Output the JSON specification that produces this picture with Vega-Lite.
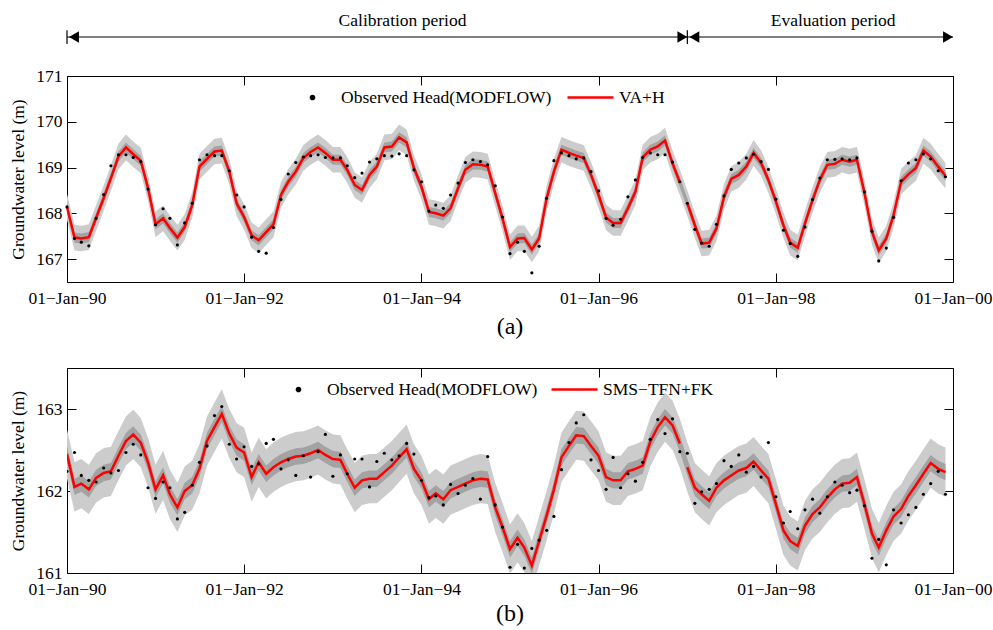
{
"$schema": "https://vega.github.io/schema/vega-lite/v6.json",
"padding": {"left": 9, "top": 11, "right": 5, "bottom": 5},
"background": "white",
"bounds": "flush",
"spacing": 86,
"resolve": {"scale": {"color": "independent"}, "legend": {"color": "independent"}},
"config": {
 "font": "Liberation Serif",
 "view": {"stroke": "black", "strokeWidth": 1},
 "axis": {"grid": false, "domain": false, "tickColor": "black", "tickSize": -9, "labelFont": "Liberation Serif", "labelFontSize": 17.5, "labelColor": "black", "titleFont": "Liberation Serif", "titleFontSize": 17.5, "titleFontWeight": "normal", "titleColor": "black"},
 "legend": {"labelFont": "Liberation Serif", "labelFontSize": 17.5, "labelColor": "black"}
},
"datasets": {
"A": [
{"t":"1990-01-01","g":"c","o":168.14,"s":168.14,"lo":167.86,"li":168.03,"hi":168.25,"ho":168.42},
{"t":"1990-02-01","g":"c","o":167.45,"s":167.47,"lo":167.19,"li":167.36,"hi":167.58,"ho":167.75},
{"t":"1990-03-01","g":"c","o":167.37,"s":167.45,"lo":167.17,"li":167.34,"hi":167.56,"ho":167.73},
{"t":"1990-04-01","g":"c","o":167.29,"s":167.48,"lo":167.20,"li":167.37,"hi":167.59,"ho":167.76},
{"t":"1990-05-01","g":"c","o":167.89,"s":167.90,"lo":167.62,"li":167.79,"hi":168.01,"ho":168.18},
{"t":"1990-06-01","g":"c","o":168.41,"s":168.33,"lo":168.05,"li":168.22,"hi":168.44,"ho":168.61},
{"t":"1990-07-01","g":"c","o":169.04,"s":168.77,"lo":168.49,"li":168.66,"hi":168.88,"ho":169.05},
{"t":"1990-08-01","g":"c","o":169.28,"s":169.24,"lo":168.96,"li":169.13,"hi":169.35,"ho":169.52},
{"t":"1990-09-01","g":"c","o":169.28,"s":169.44,"lo":169.16,"li":169.33,"hi":169.55,"ho":169.72},
{"t":"1990-10-01","g":"c","o":169.22,"s":169.29,"lo":169.01,"li":169.18,"hi":169.40,"ho":169.57},
{"t":"1990-11-01","g":"c","o":169.13,"s":169.15,"lo":168.87,"li":169.04,"hi":169.26,"ho":169.43},
{"t":"1990-12-01","g":"c","o":168.53,"s":168.55,"lo":168.27,"li":168.44,"hi":168.66,"ho":168.83},
{"t":"1991-01-01","g":"c","o":167.75,"s":167.76,"lo":167.48,"li":167.65,"hi":167.87,"ho":168.04},
{"t":"1991-02-01","g":"c","o":168.10,"s":167.89,"lo":167.61,"li":167.78,"hi":168.00,"ho":168.17},
{"t":"1991-03-01","g":"c","o":167.89,"s":167.68,"lo":167.40,"li":167.57,"hi":167.79,"ho":167.96},
{"t":"1991-04-01","g":"c","o":167.31,"s":167.47,"lo":167.19,"li":167.36,"hi":167.58,"ho":167.75},
{"t":"1991-05-01","g":"c","o":167.79,"s":167.70,"lo":167.42,"li":167.59,"hi":167.81,"ho":167.98},
{"t":"1991-06-01","g":"c","o":168.22,"s":168.18,"lo":167.90,"li":168.07,"hi":168.29,"ho":168.46},
{"t":"1991-07-01","g":"c","o":169.17,"s":169.02,"lo":168.74,"li":168.91,"hi":169.13,"ho":169.30},
{"t":"1991-08-01","g":"c","o":169.28,"s":169.19,"lo":168.91,"li":169.08,"hi":169.30,"ho":169.47},
{"t":"1991-09-01","g":"c","o":169.26,"s":169.35,"lo":169.07,"li":169.24,"hi":169.46,"ho":169.63},
{"t":"1991-10-01","g":"c","o":169.26,"s":169.37,"lo":169.09,"li":169.26,"hi":169.48,"ho":169.65},
{"t":"1991-11-01","g":"c","o":168.93,"s":168.91,"lo":168.63,"li":168.80,"hi":169.02,"ho":169.19},
{"t":"1991-12-01","g":"c","o":168.40,"s":168.22,"lo":167.94,"li":168.11,"hi":168.33,"ho":168.50},
{"t":"1992-01-01","g":"c","o":168.14,"s":167.92,"lo":167.64,"li":167.81,"hi":168.03,"ho":168.20},
{"t":"1992-02-01","g":"c","o":167.48,"s":167.52,"lo":167.24,"li":167.41,"hi":167.63,"ho":167.80},
{"t":"1992-03-01","g":"c","o":167.17,"s":167.41,"lo":167.13,"li":167.30,"hi":167.52,"ho":167.69},
{"t":"1992-04-01","g":"c","o":167.13,"s":167.59,"lo":167.31,"li":167.48,"hi":167.70,"ho":167.87},
{"t":"1992-05-01","g":"c","o":167.69,"s":167.76,"lo":167.48,"li":167.65,"hi":167.87,"ho":168.04},
{"t":"1992-06-01","g":"c","o":168.30,"s":168.40,"lo":168.12,"li":168.29,"hi":168.51,"ho":168.68},
{"t":"1992-07-01","g":"c","o":168.86,"s":168.69,"lo":168.41,"li":168.58,"hi":168.80,"ho":168.97},
{"t":"1992-08-01","g":"c","o":169.11,"s":168.91,"lo":168.63,"li":168.80,"hi":169.02,"ho":169.19},
{"t":"1992-09-01","g":"c","o":169.23,"s":169.21,"lo":168.93,"li":169.10,"hi":169.32,"ho":169.49},
{"t":"1992-10-01","g":"c","o":169.26,"s":169.34,"lo":169.06,"li":169.23,"hi":169.45,"ho":169.62},
{"t":"1992-11-01","g":"c","o":169.28,"s":169.44,"lo":169.16,"li":169.33,"hi":169.55,"ho":169.72},
{"t":"1992-12-01","g":"c","o":169.22,"s":169.32,"lo":169.04,"li":169.21,"hi":169.43,"ho":169.60},
{"t":"1993-01-01","g":"c","o":169.21,"s":169.17,"lo":168.89,"li":169.06,"hi":169.28,"ho":169.45},
{"t":"1993-02-01","g":"c","o":169.21,"s":169.17,"lo":168.89,"li":169.06,"hi":169.28,"ho":169.45},
{"t":"1993-03-01","g":"c","o":169.04,"s":168.95,"lo":168.67,"li":168.84,"hi":169.06,"ho":169.23},
{"t":"1993-04-01","g":"c","o":168.78,"s":168.62,"lo":168.34,"li":168.51,"hi":168.73,"ho":168.90},
{"t":"1993-05-01","g":"c","o":168.88,"s":168.51,"lo":168.23,"li":168.40,"hi":168.62,"ho":168.79},
{"t":"1993-06-01","g":"c","o":169.12,"s":168.84,"lo":168.56,"li":168.73,"hi":168.95,"ho":169.12},
{"t":"1993-07-01","g":"c","o":169.19,"s":169.02,"lo":168.74,"li":168.91,"hi":169.13,"ho":169.30},
{"t":"1993-08-01","g":"c","o":169.26,"s":169.44,"lo":169.16,"li":169.33,"hi":169.55,"ho":169.72},
{"t":"1993-09-01","g":"c","o":169.25,"s":169.46,"lo":169.18,"li":169.35,"hi":169.57,"ho":169.74},
{"t":"1993-10-01","g":"c","o":169.30,"s":169.66,"lo":169.38,"li":169.55,"hi":169.77,"ho":169.94},
{"t":"1993-11-01","g":"c","o":169.26,"s":169.55,"lo":169.27,"li":169.44,"hi":169.66,"ho":169.83},
{"t":"1993-12-01","g":"c","o":168.95,"s":168.99,"lo":168.71,"li":168.88,"hi":169.10,"ho":169.27},
{"t":"1994-01-01","g":"c","o":168.69,"s":168.58,"lo":168.30,"li":168.47,"hi":168.69,"ho":168.86},
{"t":"1994-02-01","g":"c","o":168.05,"s":168.03,"lo":167.75,"li":167.92,"hi":168.14,"ho":168.31},
{"t":"1994-03-01","g":"c","o":168.18,"s":168.00,"lo":167.72,"li":167.89,"hi":168.11,"ho":168.28},
{"t":"1994-04-01","g":"c","o":168.11,"s":167.95,"lo":167.67,"li":167.84,"hi":168.06,"ho":168.23},
{"t":"1994-05-01","g":"c","o":168.40,"s":168.11,"lo":167.83,"li":168.00,"hi":168.22,"ho":168.39},
{"t":"1994-06-01","g":"c","o":168.66,"s":168.55,"lo":168.27,"li":168.44,"hi":168.66,"ho":168.83},
{"t":"1994-07-01","g":"c","o":169.11,"s":168.95,"lo":168.67,"li":168.84,"hi":169.06,"ho":169.23},
{"t":"1994-08-01","g":"c","o":169.17,"s":169.07,"lo":168.79,"li":168.96,"hi":169.18,"ho":169.35},
{"t":"1994-09-01","g":"c","o":169.13,"s":169.06,"lo":168.78,"li":168.95,"hi":169.17,"ho":169.34},
{"t":"1994-10-01","g":"c","o":169.06,"s":169.02,"lo":168.74,"li":168.91,"hi":169.13,"ho":169.30},
{"t":"1994-11-01","g":"c","o":168.60,"s":168.44,"lo":168.16,"li":168.33,"hi":168.55,"ho":168.72},
{"t":"1994-12-01","g":"c","o":167.92,"s":167.89,"lo":167.61,"li":167.78,"hi":168.00,"ho":168.17},
{"t":"1995-01-01","g":"c","o":167.12,"s":167.26,"lo":166.98,"li":167.15,"hi":167.37,"ho":167.54},
{"t":"1995-02-01","g":"c","o":167.37,"s":167.45,"lo":167.17,"li":167.34,"hi":167.56,"ho":167.73},
{"t":"1995-03-01","g":"c","o":167.17,"s":167.46,"lo":167.18,"li":167.35,"hi":167.57,"ho":167.74},
{"t":"1995-04-01","g":"c","o":166.70,"s":167.21,"lo":166.93,"li":167.10,"hi":167.32,"ho":167.49},
{"t":"1995-05-01","g":"c","o":167.28,"s":167.45,"lo":167.17,"li":167.34,"hi":167.56,"ho":167.73},
{"t":"1995-06-01","g":"c","o":168.33,"s":168.33,"lo":168.05,"li":168.22,"hi":168.44,"ho":168.61},
{"t":"1995-07-01","g":"c","o":169.15,"s":168.91,"lo":168.63,"li":168.80,"hi":169.02,"ho":169.19},
{"t":"1995-08-01","g":"c","o":169.32,"s":169.39,"lo":169.11,"li":169.28,"hi":169.50,"ho":169.67},
{"t":"1995-09-01","g":"c","o":169.26,"s":169.32,"lo":169.04,"li":169.21,"hi":169.43,"ho":169.60},
{"t":"1995-10-01","g":"c","o":169.19,"s":169.26,"lo":168.98,"li":169.15,"hi":169.37,"ho":169.54},
{"t":"1995-11-01","g":"c","o":169.21,"s":169.21,"lo":168.93,"li":169.10,"hi":169.32,"ho":169.49},
{"t":"1995-12-01","g":"c","o":168.91,"s":168.84,"lo":168.56,"li":168.73,"hi":168.95,"ho":169.12},
{"t":"1996-01-01","g":"c","o":168.49,"s":168.40,"lo":168.12,"li":168.29,"hi":168.51,"ho":168.68},
{"t":"1996-02-01","g":"c","o":167.89,"s":167.91,"lo":167.63,"li":167.80,"hi":168.02,"ho":168.19},
{"t":"1996-03-01","g":"c","o":167.74,"s":167.79,"lo":167.51,"li":167.68,"hi":167.90,"ho":168.07},
{"t":"1996-04-01","g":"c","o":167.87,"s":167.79,"lo":167.51,"li":167.68,"hi":167.90,"ho":168.07},
{"t":"1996-05-01","g":"c","o":168.36,"s":168.11,"lo":167.83,"li":168.00,"hi":168.22,"ho":168.39},
{"t":"1996-06-01","g":"c","o":168.73,"s":168.47,"lo":168.19,"li":168.36,"hi":168.58,"ho":168.75},
{"t":"1996-07-01","g":"c","o":169.22,"s":169.22,"lo":168.94,"li":169.11,"hi":169.33,"ho":169.50},
{"t":"1996-08-01","g":"c","o":169.32,"s":169.39,"lo":169.11,"li":169.28,"hi":169.50,"ho":169.67},
{"t":"1996-09-01","g":"c","o":169.28,"s":169.46,"lo":169.18,"li":169.35,"hi":169.57,"ho":169.74},
{"t":"1996-10-01","g":"c","o":169.28,"s":169.59,"lo":169.31,"li":169.48,"hi":169.70,"ho":169.87},
{"t":"1996-11-01","g":"c","o":169.12,"s":169.09,"lo":168.81,"li":168.98,"hi":169.20,"ho":169.37},
{"t":"1996-12-01","g":"c","o":168.69,"s":168.68,"lo":168.40,"li":168.57,"hi":168.79,"ho":168.96},
{"t":"1997-01-01","g":"e","o":168.22,"s":168.22,"lo":167.94,"li":168.11,"hi":168.33,"ho":168.50},
{"t":"1997-02-01","g":"e","o":167.65,"s":167.74,"lo":167.46,"li":167.63,"hi":167.85,"ho":168.02},
{"t":"1997-03-01","g":"e","o":167.35,"s":167.34,"lo":167.06,"li":167.23,"hi":167.45,"ho":167.62},
{"t":"1997-04-01","g":"e","o":167.28,"s":167.36,"lo":167.08,"li":167.25,"hi":167.47,"ho":167.64},
{"t":"1997-05-01","g":"e","o":167.76,"s":167.67,"lo":167.39,"li":167.56,"hi":167.78,"ho":167.95},
{"t":"1997-06-01","g":"e","o":168.38,"s":168.36,"lo":168.08,"li":168.25,"hi":168.47,"ho":168.64},
{"t":"1997-07-01","g":"e","o":168.96,"s":168.75,"lo":168.47,"li":168.64,"hi":168.86,"ho":169.03},
{"t":"1997-08-01","g":"e","o":169.10,"s":168.84,"lo":168.56,"li":168.73,"hi":168.95,"ho":169.12},
{"t":"1997-09-01","g":"e","o":169.21,"s":169.02,"lo":168.74,"li":168.91,"hi":169.13,"ho":169.30},
{"t":"1997-10-01","g":"e","o":169.29,"s":169.32,"lo":169.04,"li":169.21,"hi":169.43,"ho":169.60},
{"t":"1997-11-01","g":"e","o":169.13,"s":169.10,"lo":168.82,"li":168.99,"hi":169.21,"ho":169.38},
{"t":"1997-12-01","g":"e","o":168.96,"s":168.73,"lo":168.45,"li":168.62,"hi":168.84,"ho":169.01},
{"t":"1998-01-01","g":"e","o":168.31,"s":168.26,"lo":167.98,"li":168.15,"hi":168.37,"ho":168.54},
{"t":"1998-02-01","g":"e","o":167.63,"s":167.74,"lo":167.46,"li":167.63,"hi":167.85,"ho":168.02},
{"t":"1998-03-01","g":"e","o":167.34,"s":167.36,"lo":167.08,"li":167.25,"hi":167.47,"ho":167.64},
{"t":"1998-04-01","g":"e","o":167.06,"s":167.25,"lo":166.97,"li":167.14,"hi":167.36,"ho":167.53},
{"t":"1998-05-01","g":"e","o":167.70,"s":167.78,"lo":167.50,"li":167.67,"hi":167.89,"ho":168.06},
{"t":"1998-06-01","g":"e","o":168.30,"s":168.29,"lo":168.01,"li":168.18,"hi":168.40,"ho":168.57},
{"t":"1998-07-01","g":"e","o":168.77,"s":168.73,"lo":168.45,"li":168.62,"hi":168.84,"ho":169.01},
{"t":"1998-08-01","g":"e","o":169.17,"s":169.06,"lo":168.78,"li":168.95,"hi":169.17,"ho":169.34},
{"t":"1998-09-01","g":"e","o":169.18,"s":169.08,"lo":168.80,"li":168.97,"hi":169.19,"ho":169.36},
{"t":"1998-10-01","g":"e","o":169.19,"s":169.17,"lo":168.89,"li":169.06,"hi":169.28,"ho":169.45},
{"t":"1998-11-01","g":"e","o":169.17,"s":169.13,"lo":168.85,"li":169.02,"hi":169.24,"ho":169.41},
{"t":"1998-12-01","g":"e","o":169.21,"s":169.17,"lo":168.89,"li":169.06,"hi":169.28,"ho":169.45},
{"t":"1999-01-01","g":"e","o":168.47,"s":168.45,"lo":168.17,"li":168.34,"hi":168.56,"ho":168.73},
{"t":"1999-02-01","g":"e","o":167.61,"s":167.60,"lo":167.32,"li":167.49,"hi":167.71,"ho":167.88},
{"t":"1999-03-01","g":"e","o":166.96,"s":167.19,"lo":166.91,"li":167.08,"hi":167.30,"ho":167.47},
{"t":"1999-04-01","g":"e","o":167.24,"s":167.45,"lo":167.17,"li":167.34,"hi":167.56,"ho":167.73},
{"t":"1999-05-01","g":"e","o":167.91,"s":167.96,"lo":167.68,"li":167.85,"hi":168.07,"ho":168.24},
{"t":"1999-06-01","g":"e","o":168.71,"s":168.69,"lo":168.41,"li":168.58,"hi":168.80,"ho":168.97},
{"t":"1999-07-01","g":"e","o":169.10,"s":168.85,"lo":168.57,"li":168.74,"hi":168.96,"ho":169.13},
{"t":"1999-08-01","g":"e","o":169.17,"s":168.99,"lo":168.71,"li":168.88,"hi":169.10,"ho":169.27},
{"t":"1999-09-01","g":"e","o":169.30,"s":169.37,"lo":169.09,"li":169.26,"hi":169.48,"ho":169.65},
{"t":"1999-10-01","g":"e","o":169.19,"s":169.24,"lo":168.96,"li":169.13,"hi":169.35,"ho":169.52},
{"t":"1999-11-01","g":"e","o":168.93,"s":169.02,"lo":168.74,"li":168.91,"hi":169.13,"ho":169.30},
{"t":"1999-12-01","g":"e","o":168.80,"s":168.82,"lo":168.54,"li":168.71,"hi":168.93,"ho":169.10}
],
"B": [
{"t":"1990-01-01","g":"c","o":162.24,"s":162.45,"lo":162.15,"li":162.35,"hi":162.55,"ho":162.75},
{"t":"1990-02-01","g":"c","o":162.47,"s":162.05,"lo":161.75,"li":161.95,"hi":162.15,"ho":162.35},
{"t":"1990-03-01","g":"c","o":162.19,"s":162.09,"lo":161.79,"li":161.99,"hi":162.19,"ho":162.39},
{"t":"1990-04-01","g":"c","o":162.13,"s":162.02,"lo":161.72,"li":161.92,"hi":162.12,"ho":162.32},
{"t":"1990-05-01","g":"c","o":162.11,"s":162.16,"lo":161.86,"li":162.06,"hi":162.26,"ho":162.46},
{"t":"1990-06-01","g":"c","o":162.28,"s":162.22,"lo":161.92,"li":162.12,"hi":162.32,"ho":162.52},
{"t":"1990-07-01","g":"c","o":162.22,"s":162.24,"lo":161.94,"li":162.14,"hi":162.34,"ho":162.54},
{"t":"1990-08-01","g":"c","o":162.25,"s":162.43,"lo":162.13,"li":162.33,"hi":162.53,"ho":162.73},
{"t":"1990-09-01","g":"c","o":162.47,"s":162.61,"lo":162.31,"li":162.51,"hi":162.71,"ho":162.91},
{"t":"1990-10-01","g":"c","o":162.57,"s":162.69,"lo":162.39,"li":162.59,"hi":162.79,"ho":162.99},
{"t":"1990-11-01","g":"c","o":162.44,"s":162.59,"lo":162.29,"li":162.49,"hi":162.69,"ho":162.89},
{"t":"1990-12-01","g":"c","o":162.04,"s":162.35,"lo":162.05,"li":162.25,"hi":162.45,"ho":162.65},
{"t":"1991-01-01","g":"c","o":161.91,"s":162.02,"lo":161.72,"li":161.92,"hi":162.12,"ho":162.32},
{"t":"1991-02-01","g":"c","o":162.11,"s":162.19,"lo":161.89,"li":162.09,"hi":162.29,"ho":162.49},
{"t":"1991-03-01","g":"c","o":162.04,"s":161.96,"lo":161.66,"li":161.86,"hi":162.06,"ho":162.26},
{"t":"1991-04-01","g":"c","o":161.66,"s":161.80,"lo":161.50,"li":161.70,"hi":161.90,"ho":162.10},
{"t":"1991-05-01","g":"c","o":161.74,"s":162.00,"lo":161.70,"li":161.90,"hi":162.10,"ho":162.30},
{"t":"1991-06-01","g":"c","o":162.07,"s":162.07,"lo":161.77,"li":161.97,"hi":162.17,"ho":162.37},
{"t":"1991-07-01","g":"c","o":162.35,"s":162.27,"lo":161.97,"li":162.17,"hi":162.37,"ho":162.57},
{"t":"1991-08-01","g":"c","o":162.55,"s":162.61,"lo":162.31,"li":162.51,"hi":162.71,"ho":162.91},
{"t":"1991-09-01","g":"c","o":162.92,"s":162.78,"lo":162.48,"li":162.68,"hi":162.88,"ho":163.08},
{"t":"1991-10-01","g":"c","o":163.03,"s":162.94,"lo":162.64,"li":162.84,"hi":163.04,"ho":163.24},
{"t":"1991-11-01","g":"c","o":162.57,"s":162.70,"lo":162.40,"li":162.60,"hi":162.80,"ho":163.00},
{"t":"1991-12-01","g":"c","o":162.39,"s":162.53,"lo":162.23,"li":162.43,"hi":162.63,"ho":162.83},
{"t":"1992-01-01","g":"c","o":162.54,"s":162.47,"lo":162.17,"li":162.37,"hi":162.57,"ho":162.77},
{"t":"1992-02-01","g":"c","o":162.30,"s":162.17,"lo":161.87,"li":162.07,"hi":162.27,"ho":162.47},
{"t":"1992-03-01","g":"c","o":162.33,"s":162.35,"lo":162.05,"li":162.25,"hi":162.45,"ho":162.65},
{"t":"1992-04-01","g":"c","o":162.58,"s":162.21,"lo":161.91,"li":162.11,"hi":162.31,"ho":162.51},
{"t":"1992-05-01","g":"c","o":162.63,"s":162.29,"lo":161.99,"li":162.19,"hi":162.39,"ho":162.59},
{"t":"1992-06-01","g":"c","o":162.27,"s":162.35,"lo":162.05,"li":162.25,"hi":162.45,"ho":162.65},
{"t":"1992-07-01","g":"c","o":162.38,"s":162.39,"lo":162.09,"li":162.29,"hi":162.49,"ho":162.69},
{"t":"1992-08-01","g":"c","o":162.19,"s":162.42,"lo":162.12,"li":162.32,"hi":162.52,"ho":162.72},
{"t":"1992-09-01","g":"c","o":162.43,"s":162.43,"lo":162.13,"li":162.33,"hi":162.53,"ho":162.73},
{"t":"1992-10-01","g":"c","o":162.17,"s":162.46,"lo":162.16,"li":162.36,"hi":162.56,"ho":162.76},
{"t":"1992-11-01","g":"c","o":162.48,"s":162.50,"lo":162.20,"li":162.40,"hi":162.60,"ho":162.80},
{"t":"1992-12-01","g":"c","o":162.69,"s":162.44,"lo":162.14,"li":162.34,"hi":162.54,"ho":162.74},
{"t":"1993-01-01","g":"c","o":162.18,"s":162.39,"lo":162.09,"li":162.29,"hi":162.49,"ho":162.69},
{"t":"1993-02-01","g":"c","o":162.44,"s":162.38,"lo":162.08,"li":162.28,"hi":162.48,"ho":162.68},
{"t":"1993-03-01","g":"c","o":162.21,"s":162.21,"lo":161.91,"li":162.11,"hi":162.31,"ho":162.51},
{"t":"1993-04-01","g":"c","o":162.39,"s":162.04,"lo":161.74,"li":161.94,"hi":162.14,"ho":162.34},
{"t":"1993-05-01","g":"c","o":162.39,"s":162.13,"lo":161.83,"li":162.03,"hi":162.23,"ho":162.43},
{"t":"1993-06-01","g":"c","o":162.05,"s":162.15,"lo":161.85,"li":162.05,"hi":162.25,"ho":162.45},
{"t":"1993-07-01","g":"c","o":162.36,"s":162.15,"lo":161.85,"li":162.05,"hi":162.25,"ho":162.45},
{"t":"1993-08-01","g":"c","o":162.46,"s":162.23,"lo":161.93,"li":162.13,"hi":162.33,"ho":162.53},
{"t":"1993-09-01","g":"c","o":162.38,"s":162.31,"lo":162.01,"li":162.21,"hi":162.41,"ho":162.61},
{"t":"1993-10-01","g":"c","o":162.43,"s":162.41,"lo":162.11,"li":162.31,"hi":162.51,"ho":162.71},
{"t":"1993-11-01","g":"c","o":162.58,"s":162.51,"lo":162.21,"li":162.41,"hi":162.61,"ho":162.81},
{"t":"1993-12-01","g":"c","o":162.45,"s":162.27,"lo":161.97,"li":162.17,"hi":162.37,"ho":162.57},
{"t":"1994-01-01","g":"c","o":162.13,"s":162.13,"lo":161.83,"li":162.03,"hi":162.23,"ho":162.43},
{"t":"1994-02-01","g":"c","o":161.92,"s":161.90,"lo":161.60,"li":161.80,"hi":162.00,"ho":162.20},
{"t":"1994-03-01","g":"c","o":161.94,"s":161.97,"lo":161.67,"li":161.87,"hi":162.07,"ho":162.27},
{"t":"1994-04-01","g":"c","o":161.83,"s":161.90,"lo":161.60,"li":161.80,"hi":162.00,"ho":162.20},
{"t":"1994-05-01","g":"c","o":162.08,"s":162.01,"lo":161.71,"li":161.91,"hi":162.11,"ho":162.31},
{"t":"1994-06-01","g":"c","o":161.97,"s":162.05,"lo":161.75,"li":161.95,"hi":162.15,"ho":162.35},
{"t":"1994-07-01","g":"c","o":162.07,"s":162.09,"lo":161.79,"li":161.99,"hi":162.19,"ho":162.39},
{"t":"1994-08-01","g":"c","o":162.15,"s":162.13,"lo":161.83,"li":162.03,"hi":162.23,"ho":162.43},
{"t":"1994-09-01","g":"c","o":161.90,"s":162.15,"lo":161.85,"li":162.05,"hi":162.25,"ho":162.45},
{"t":"1994-10-01","g":"c","o":162.42,"s":162.14,"lo":161.84,"li":162.04,"hi":162.24,"ho":162.44},
{"t":"1994-11-01","g":"c","o":161.83,"s":161.80,"lo":161.50,"li":161.70,"hi":161.90,"ho":162.10},
{"t":"1994-12-01","g":"c","o":161.56,"s":161.56,"lo":161.26,"li":161.46,"hi":161.66,"ho":161.86},
{"t":"1995-01-01","g":"c","o":161.07,"s":161.29,"lo":160.99,"li":161.19,"hi":161.39,"ho":161.59},
{"t":"1995-02-01","g":"c","o":161.35,"s":161.43,"lo":161.13,"li":161.33,"hi":161.53,"ho":161.73},
{"t":"1995-03-01","g":"c","o":161.06,"s":161.31,"lo":161.01,"li":161.21,"hi":161.41,"ho":161.61},
{"t":"1995-04-01","g":"c","o":161.30,"s":161.09,"lo":160.79,"li":160.99,"hi":161.19,"ho":161.39},
{"t":"1995-05-01","g":"c","o":161.40,"s":161.39,"lo":161.09,"li":161.29,"hi":161.49,"ho":161.69},
{"t":"1995-06-01","g":"c","o":161.52,"s":161.70,"lo":161.40,"li":161.60,"hi":161.80,"ho":162.00},
{"t":"1995-07-01","g":"c","o":161.69,"s":162.02,"lo":161.72,"li":161.92,"hi":162.12,"ho":162.32},
{"t":"1995-08-01","g":"c","o":162.26,"s":162.41,"lo":162.11,"li":162.31,"hi":162.51,"ho":162.71},
{"t":"1995-09-01","g":"c","o":162.59,"s":162.55,"lo":162.25,"li":162.45,"hi":162.65,"ho":162.85},
{"t":"1995-10-01","g":"c","o":162.83,"s":162.68,"lo":162.38,"li":162.58,"hi":162.78,"ho":162.98},
{"t":"1995-11-01","g":"c","o":162.93,"s":162.67,"lo":162.37,"li":162.57,"hi":162.77,"ho":162.97},
{"t":"1995-12-01","g":"c","o":162.38,"s":162.55,"lo":162.25,"li":162.45,"hi":162.65,"ho":162.85},
{"t":"1996-01-01","g":"c","o":162.25,"s":162.43,"lo":162.13,"li":162.33,"hi":162.53,"ho":162.73},
{"t":"1996-02-01","g":"c","o":162.02,"s":162.17,"lo":161.87,"li":162.07,"hi":162.27,"ho":162.47},
{"t":"1996-03-01","g":"c","o":162.41,"s":162.13,"lo":161.83,"li":162.03,"hi":162.23,"ho":162.43},
{"t":"1996-04-01","g":"c","o":162.04,"s":162.13,"lo":161.83,"li":162.03,"hi":162.23,"ho":162.43},
{"t":"1996-05-01","g":"c","o":162.21,"s":162.24,"lo":161.94,"li":162.14,"hi":162.34,"ho":162.54},
{"t":"1996-06-01","g":"c","o":162.12,"s":162.27,"lo":161.97,"li":162.17,"hi":162.37,"ho":162.57},
{"t":"1996-07-01","g":"c","o":162.35,"s":162.31,"lo":162.01,"li":162.21,"hi":162.41,"ho":162.61},
{"t":"1996-08-01","g":"c","o":162.63,"s":162.60,"lo":162.30,"li":162.50,"hi":162.70,"ho":162.90},
{"t":"1996-09-01","g":"c","o":162.87,"s":162.78,"lo":162.48,"li":162.68,"hi":162.88,"ho":163.08},
{"t":"1996-10-01","g":"c","o":162.70,"s":162.90,"lo":162.60,"li":162.80,"hi":163.00,"ho":163.20},
{"t":"1996-11-01","g":"c","o":162.88,"s":162.80,"lo":162.50,"li":162.70,"hi":162.90,"ho":163.10},
{"t":"1996-12-01","g":"c","o":162.48,"s":162.58,"lo":162.28,"li":162.48,"hi":162.68,"ho":162.88},
{"t":"1997-01-01","g":"e","o":162.46,"s":162.29,"lo":161.99,"li":162.19,"hi":162.39,"ho":162.59},
{"t":"1997-02-01","g":"e","o":161.85,"s":162.04,"lo":161.74,"li":161.94,"hi":162.14,"ho":162.34},
{"t":"1997-03-01","g":"e","o":161.99,"s":161.96,"lo":161.66,"li":161.86,"hi":162.06,"ho":162.26},
{"t":"1997-04-01","g":"e","o":162.02,"s":161.88,"lo":161.58,"li":161.78,"hi":161.98,"ho":162.18},
{"t":"1997-05-01","g":"e","o":162.09,"s":162.04,"lo":161.74,"li":161.94,"hi":162.14,"ho":162.34},
{"t":"1997-06-01","g":"e","o":162.37,"s":162.13,"lo":161.83,"li":162.03,"hi":162.23,"ho":162.43},
{"t":"1997-07-01","g":"e","o":162.30,"s":162.19,"lo":161.89,"li":162.09,"hi":162.29,"ho":162.49},
{"t":"1997-08-01","g":"e","o":162.44,"s":162.25,"lo":161.95,"li":162.15,"hi":162.35,"ho":162.55},
{"t":"1997-09-01","g":"e","o":162.23,"s":162.28,"lo":161.98,"li":162.18,"hi":162.38,"ho":162.58},
{"t":"1997-10-01","g":"e","o":162.30,"s":162.36,"lo":162.06,"li":162.26,"hi":162.46,"ho":162.66},
{"t":"1997-11-01","g":"e","o":162.17,"s":162.25,"lo":161.95,"li":162.15,"hi":162.35,"ho":162.55},
{"t":"1997-12-01","g":"e","o":162.59,"s":162.15,"lo":161.85,"li":162.05,"hi":162.25,"ho":162.45},
{"t":"1998-01-01","g":"e","o":161.93,"s":161.84,"lo":161.54,"li":161.74,"hi":161.94,"ho":162.14},
{"t":"1998-02-01","g":"e","o":161.61,"s":161.52,"lo":161.22,"li":161.42,"hi":161.62,"ho":161.82},
{"t":"1998-03-01","g":"e","o":161.75,"s":161.39,"lo":161.09,"li":161.29,"hi":161.49,"ho":161.69},
{"t":"1998-04-01","g":"e","o":161.54,"s":161.33,"lo":161.03,"li":161.23,"hi":161.43,"ho":161.63},
{"t":"1998-05-01","g":"e","o":161.77,"s":161.58,"lo":161.28,"li":161.48,"hi":161.68,"ho":161.88},
{"t":"1998-06-01","g":"e","o":161.90,"s":161.72,"lo":161.42,"li":161.62,"hi":161.82,"ho":162.02},
{"t":"1998-07-01","g":"e","o":161.73,"s":161.80,"lo":161.50,"li":161.70,"hi":161.90,"ho":162.10},
{"t":"1998-08-01","g":"e","o":161.93,"s":161.92,"lo":161.62,"li":161.82,"hi":162.02,"ho":162.22},
{"t":"1998-09-01","g":"e","o":162.11,"s":162.02,"lo":161.72,"li":161.92,"hi":162.12,"ho":162.32},
{"t":"1998-10-01","g":"e","o":162.07,"s":162.09,"lo":161.79,"li":161.99,"hi":162.19,"ho":162.39},
{"t":"1998-11-01","g":"e","o":161.98,"s":162.10,"lo":161.80,"li":162.00,"hi":162.20,"ho":162.40},
{"t":"1998-12-01","g":"e","o":162.01,"s":162.17,"lo":161.87,"li":162.07,"hi":162.27,"ho":162.47},
{"t":"1999-01-01","g":"e","o":161.82,"s":161.84,"lo":161.54,"li":161.74,"hi":161.94,"ho":162.14},
{"t":"1999-02-01","g":"e","o":161.18,"s":161.48,"lo":161.18,"li":161.38,"hi":161.58,"ho":161.78},
{"t":"1999-03-01","g":"e","o":161.41,"s":161.31,"lo":161.01,"li":161.21,"hi":161.41,"ho":161.61},
{"t":"1999-04-01","g":"e","o":161.10,"s":161.52,"lo":161.22,"li":161.42,"hi":161.62,"ho":161.82},
{"t":"1999-05-01","g":"e","o":161.77,"s":161.69,"lo":161.39,"li":161.59,"hi":161.79,"ho":161.99},
{"t":"1999-06-01","g":"e","o":161.61,"s":161.78,"lo":161.48,"li":161.68,"hi":161.88,"ho":162.08},
{"t":"1999-07-01","g":"e","o":161.71,"s":161.94,"lo":161.64,"li":161.84,"hi":162.04,"ho":162.24},
{"t":"1999-08-01","g":"e","o":161.80,"s":162.07,"lo":161.77,"li":161.97,"hi":162.17,"ho":162.37},
{"t":"1999-09-01","g":"e","o":161.96,"s":162.21,"lo":161.91,"li":162.11,"hi":162.31,"ho":162.51},
{"t":"1999-10-01","g":"e","o":162.09,"s":162.34,"lo":162.04,"li":162.24,"hi":162.44,"ho":162.64},
{"t":"1999-11-01","g":"e","o":162.24,"s":162.27,"lo":161.97,"li":162.17,"hi":162.37,"ho":162.57},
{"t":"1999-12-01","g":"e","o":161.96,"s":162.23,"lo":161.93,"li":162.13,"hi":162.33,"ho":162.53}
],
"periods": [
{"a":"1990-01-01","b":"1997-01-01","mid":"1993-10-15","label":"Calibration period"},
{"a":"1997-01-01","b":"2000-01-01","mid":"1998-08-25","label":"Evaluation period"}
]
},
"vconcat": [
{
 "width": 886, "height": 206,
 "title": {"text": "(a)", "orient": "bottom", "anchor": "middle", "fontSize": 24, "fontWeight": "normal", "font": "Liberation Serif", "color": "black", "offset": 8},
 "data": {"name": "A"},
 "resolve": {"axis": {"x": "independent", "y": "independent"}},
 "layer": [
  {"mark": {"type": "area", "color": "#cccccc", "clip": true},
   "encoding": {
    "x": {"field": "t", "type": "temporal", "scale": {"type": "utc", "domain": [{"year": 1990, "month": 1, "date": 1, "utc": true}, {"year": 2000, "month": 1, "date": 1, "utc": true}]},
      "axis": {"orient": "bottom", "title": null, "values": [{"year": 1990, "month": 1, "date": 1, "utc": true}, {"year": 1992, "month": 1, "date": 1, "utc": true}, {"year": 1994, "month": 1, "date": 1, "utc": true}, {"year": 1996, "month": 1, "date": 1, "utc": true}, {"year": 1998, "month": 1, "date": 1, "utc": true}, {"year": 2000, "month": 1, "date": 1, "utc": true}], "labelExpr": "utcFormat(datum.value, '%d\u2212%b\u2212%y')", "labelPadding": 16, "labelOverlap": false, "labelFlush": false, "labelBound": false}},
    "y": {"field": "lo", "type": "quantitative", "scale": {"domain": [166.5, 171], "nice": false, "zero": false},
      "axis": {"orient": "left", "title": "Groundwater level (m)", "values": [167, 168, 169, 170, 171], "labelPadding": 14, "titlePadding": 8}},
    "y2": {"field": "ho"}
   }},
  {"mark": {"type": "area", "color": "#a3a3a3", "clip": true},
   "encoding": {
    "x": {"field": "t", "type": "temporal", "axis": {"orient": "top", "title": null, "labels": false, "values": [{"year": 1990, "month": 1, "date": 1, "utc": true}, {"year": 1992, "month": 1, "date": 1, "utc": true}, {"year": 1994, "month": 1, "date": 1, "utc": true}, {"year": 1996, "month": 1, "date": 1, "utc": true}, {"year": 1998, "month": 1, "date": 1, "utc": true}, {"year": 2000, "month": 1, "date": 1, "utc": true}]}},
    "y": {"field": "li", "type": "quantitative", "axis": {"orient": "right", "title": null, "labels": false, "values": [167, 168, 169, 170, 171]}},
    "y2": {"field": "hi"}
   }},
  {"mark": {"type": "line", "strokeWidth": 2.5},
   "encoding": {
    "x": {"field": "t", "type": "temporal", "axis": null},
    "y": {"field": "s", "type": "quantitative", "axis": null},
    "detail": {"field": "g"},
    "color": {"datum": "VA+H", "type": "nominal",
      "scale": {"domain": ["Observed Head(MODFLOW)", "VA+H"], "range": ["black", "red"]},
      "legend": {"orient": "none", "legendX": 221, "legendY": -3, "direction": "horizontal", "title": null, "symbolSize": 2116, "symbolStrokeWidth": 2.5, "labelOffset": 4, "columnPadding": 10, "labelLimit": 500, "labelFontSize": 17.5,
        "encode": {"symbols": {"update": {
          "shape": {"signal": "datum.value === 'VA+H' ? 'stroke' : 'M -0.07 0 A 0.07 0.07 0 1 1 0.07 0 A 0.07 0.07 0 1 1 -0.07 0 Z'"},
          "size": {"value": 2116},
          "strokeWidth": {"value": 2.5},
          "fill": {"signal": "datum.value === 'VA+H' ? 'transparent' : 'black'"},
          "stroke": {"signal": "datum.value === 'VA+H' ? 'red' : 'transparent'"},
          "opacity": {"value": 1}}}}}}
   }},
  {"mark": {"type": "point", "filled": true, "size": 10, "opacity": 1},
   "encoding": {
    "x": {"field": "t", "type": "temporal", "axis": null},
    "y": {"field": "o", "type": "quantitative", "axis": null},
    "color": {"datum": "Observed Head(MODFLOW)", "type": "nominal"}
   }},
  {"data": {"name": "periods"}, "mark": {"type": "rule", "color": "black", "strokeWidth": 1.2},
   "encoding": {
    "x": {"field": "a", "type": "temporal", "axis": null},
    "x2": {"field": "b"},
    "y": {"datum": 171.852, "type": "quantitative", "axis": null}
   }},
  {"data": {"name": "periods"}, "mark": {"type": "rule", "color": "black", "strokeWidth": 1.2},
   "encoding": {
    "x": {"field": "a", "type": "temporal", "axis": null},
    "y": {"datum": 171.70, "type": "quantitative", "axis": null},
    "y2": {"datum": 172.0}
   }},
  {"data": {"name": "periods"}, "mark": {"type": "point", "shape": "triangle-left", "filled": true, "color": "black", "size": 130, "opacity": 1, "xOffset": 7},
   "encoding": {
    "x": {"field": "a", "type": "temporal", "axis": null},
    "y": {"datum": 171.852, "type": "quantitative", "axis": null}
   }},
  {"data": {"name": "periods"}, "mark": {"type": "point", "shape": "triangle-right", "filled": true, "color": "black", "size": 130, "opacity": 1, "xOffset": -5},
   "encoding": {
    "x": {"field": "b", "type": "temporal", "axis": null},
    "y": {"datum": 171.852, "type": "quantitative", "axis": null}
   }},
  {"data": {"name": "periods"}, "mark": {"type": "text", "fontSize": 17.5, "font": "Liberation Serif", "color": "black", "baseline": "middle", "align": "center"},
   "encoding": {
    "x": {"field": "mid", "type": "temporal", "axis": null},
    "y": {"datum": 172.2, "type": "quantitative", "axis": null},
    "text": {"field": "label"}
   }}
 ]
},
{
 "width": 886, "height": 205,
 "title": {"text": "(b)", "orient": "bottom", "anchor": "middle", "fontSize": 24, "fontWeight": "normal", "font": "Liberation Serif", "color": "black", "offset": 4},
 "data": {"name": "B"},
 "resolve": {"axis": {"x": "independent", "y": "independent"}},
 "layer": [
  {"mark": {"type": "area", "color": "#cccccc", "clip": true},
   "encoding": {
    "x": {"field": "t", "type": "temporal", "scale": {"type": "utc", "domain": [{"year": 1990, "month": 1, "date": 1, "utc": true}, {"year": 2000, "month": 1, "date": 1, "utc": true}]},
      "axis": {"orient": "bottom", "title": null, "values": [{"year": 1990, "month": 1, "date": 1, "utc": true}, {"year": 1992, "month": 1, "date": 1, "utc": true}, {"year": 1994, "month": 1, "date": 1, "utc": true}, {"year": 1996, "month": 1, "date": 1, "utc": true}, {"year": 1998, "month": 1, "date": 1, "utc": true}, {"year": 2000, "month": 1, "date": 1, "utc": true}], "labelExpr": "utcFormat(datum.value, '%d\u2212%b\u2212%y')", "labelPadding": 16, "labelOverlap": false, "labelFlush": false, "labelBound": false}},
    "y": {"field": "lo", "type": "quantitative", "scale": {"domain": [161, 163.5], "nice": false, "zero": false},
      "axis": {"orient": "left", "title": "Groundwater level (m)", "values": [161, 162, 163], "labelPadding": 14, "titlePadding": 8}},
    "y2": {"field": "ho"}
   }},
  {"mark": {"type": "area", "color": "#a3a3a3", "clip": true},
   "encoding": {
    "x": {"field": "t", "type": "temporal", "axis": {"orient": "top", "title": null, "labels": false, "values": [{"year": 1990, "month": 1, "date": 1, "utc": true}, {"year": 1992, "month": 1, "date": 1, "utc": true}, {"year": 1994, "month": 1, "date": 1, "utc": true}, {"year": 1996, "month": 1, "date": 1, "utc": true}, {"year": 1998, "month": 1, "date": 1, "utc": true}, {"year": 2000, "month": 1, "date": 1, "utc": true}]}},
    "y": {"field": "li", "type": "quantitative", "axis": {"orient": "right", "title": null, "labels": false, "values": [161, 162, 163]}},
    "y2": {"field": "hi"}
   }},
  {"mark": {"type": "line", "strokeWidth": 2.5, "clip": true},
   "encoding": {
    "x": {"field": "t", "type": "temporal", "axis": null},
    "y": {"field": "s", "type": "quantitative", "axis": null},
    "detail": {"field": "g"},
    "color": {"datum": "SMS\u2212TFN+FK", "type": "nominal",
      "scale": {"domain": ["Observed Head(MODFLOW)", "SMS\u2212TFN+FK"], "range": ["black", "red"]},
      "legend": {"orient": "none", "legendX": 207, "legendY": -3, "direction": "horizontal", "title": null, "symbolSize": 2116, "symbolStrokeWidth": 2.5, "labelOffset": 4, "columnPadding": 8, "labelLimit": 500, "labelFontSize": 17.5,
        "encode": {"symbols": {"update": {
          "shape": {"signal": "datum.value === 'Observed Head(MODFLOW)' ? 'M -0.07 0 A 0.07 0.07 0 1 1 0.07 0 A 0.07 0.07 0 1 1 -0.07 0 Z' : 'stroke'"},
          "size": {"value": 2116},
          "strokeWidth": {"value": 2.5},
          "fill": {"signal": "datum.value === 'Observed Head(MODFLOW)' ? 'black' : 'transparent'"},
          "stroke": {"signal": "datum.value === 'Observed Head(MODFLOW)' ? 'transparent' : 'red'"},
          "opacity": {"value": 1}}}}}}
   }},
  {"mark": {"type": "point", "filled": true, "size": 10, "opacity": 1, "clip": true},
   "encoding": {
    "x": {"field": "t", "type": "temporal", "axis": null},
    "y": {"field": "o", "type": "quantitative", "axis": null},
    "color": {"datum": "Observed Head(MODFLOW)", "type": "nominal"}
   }}
 ]
}
]
}
